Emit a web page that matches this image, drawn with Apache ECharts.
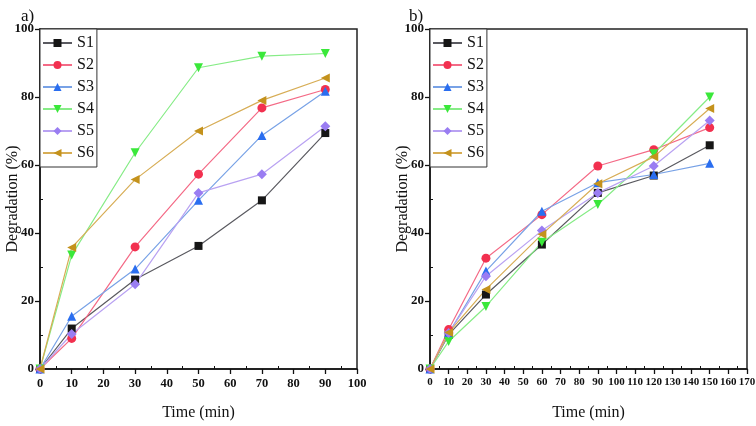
<!DOCTYPE html>
<html><head><meta charset="utf-8">
<script src="https://cdn.jsdelivr.net/npm/echarts@6/dist/echarts.min.js"></script>
<style>html,body{margin:0;padding:0;background:#fff}#c{width:756px;height:426px}</style>
</head><body><div id="c"></div>
<script>
// ---- data ----
const seriesNames = ['S1','S2','S3','S4','S5','S6'];
const timeA = [0,10,30,50,70,90];
const S1a = [0, 11.9, 26.3, 36.2, 49.6, 69.4];
const S2a = [0, 9.0, 35.9, 57.3, 76.8, 82.2];
const S3a = [0, 15.5, 29.4, 49.6, 68.7, 81.7];
const S4a = [0, 33.5, 63.6, 88.6, 92.0, 92.8];
const S5a = [0, 10.3, 24.9, 51.8, 57.3, 71.4];
const S6a = [0, 35.7, 55.7, 70.0, 79.0, 85.6];
const timeB = [0,10,30,60,90,120,150];
const S1b = [0, 10.1, 21.9, 36.6, 51.8, 56.9, 65.8];
const S2b = [0, 11.6, 32.6, 45.4, 59.7, 64.5, 71.0];
const S3b = [0, 10.5, 28.8, 46.4, 54.8, 57.2, 60.5];
const S4b = [0, 8.1, 18.4, 37.3, 48.4, 63.3, 80.0];
const S5b = [0, 10.6, 27.3, 40.7, 51.8, 59.7, 73.1];
const S6b = [0, 10.7, 23.4, 39.6, 54.5, 62.4, 76.6];
const panelTitles = ['a)','b)'];
const xNameText = 'Time (min)';
const yNameText = 'Degradation (%)';

// ---- styles ----
const serif = '"Liberation Serif","DejaVu Serif",serif';
const markerColors = ['#161616','#f2304f','#2a6ef0','#3ae83a','#9a7df2','#c4921c'];
const lineColors = ['#5a5a60','#f46a86','#78a2e6','#86ec86','#b9a2f2','#d7ad55'];
const symbols = ['rect','circle','triangle','triangle','diamond','triangle'];
const rotates = [0,0,0,180,0,90];
const sizes = [8,9,9,9,10,9];

const setsA = [S1a,S2a,S3a,S4a,S5a,S6a];
const setsB = [S1b,S2b,S3b,S4b,S5b,S6b];

function mkSeries(sets, times, idx){
  return sets.map((vals,i)=>({
    name: seriesNames[i], type:'line', xAxisIndex: idx, yAxisIndex: idx,
    data: times.map((t,j)=>[t, vals[j]]),
    symbol: symbols[i], symbolRotate: rotates[i], symbolSize: sizes[i],
    itemStyle:{color: markerColors[i]},
    lineStyle:{color: lineColors[i], width: 1.2},
    animation:false, z: 3
  }));
}

function xAx(idx, max, fs){
  return {type:'value', gridIndex: idx, min:0, max:max, interval:10,
    name: xNameText, nameLocation:'middle', nameGap: 36, nameMoveOverlap:false,
    nameTextStyle:{fontFamily: serif, fontSize: 16, color:'#111'},
    axisLine:{show:true, onZero:false, lineStyle:{color:'#111', width:1.5}},
    axisTick:{show:true, length:5, lineStyle:{color:'#111', width:1.3}},
    minorTick:{show:true, splitNumber:2, length:-3, lineStyle:{color:'#111', width:1}},
    axisLabel:{fontFamily: serif, fontWeight:'bold', fontSize: fs, color:'#111', margin: 8},
    splitLine:{show:false}};
}
function yAx(idx){
  return {type:'value', gridIndex: idx, min:0, max:100, interval:20,
    name: yNameText, nameLocation:'middle', nameGap: 19, nameMoveOverlap:false,
    nameTextStyle:{fontFamily: serif, fontSize: 16, color:'#111'},
    axisLine:{show:true, onZero:false, lineStyle:{color:'#111', width:1.5}},
    axisTick:{show:true, length:5, lineStyle:{color:'#111', width:1.3}},
    minorTick:{show:true, splitNumber:2, length:-3, lineStyle:{color:'#111', width:1}},
    axisLabel:{fontFamily: serif, fontWeight:'bold', fontSize: 13, color:'#111', margin: 6},
    splitLine:{show:false}};
}
function legend(left){
  return {orient:'vertical', left:left, top:29, data: seriesNames,
    itemWidth:29, itemHeight:10, itemGap:6, padding:[6,3,6,2],
    borderColor:'#333', borderWidth:1, backgroundColor:'#fff',
    textStyle:{fontFamily: serif, fontSize:16, color:'#111', lineHeight:16},
    selectedMode:false};
}

const chart = echarts.init(document.getElementById('c'), null, {renderer:'canvas'});
chart.setOption({
  backgroundColor:'#fff',
  animation:false,
  title:[
    {text: panelTitles[0], left: 16, top: 3, textStyle:{fontFamily: serif, fontSize:17, fontWeight:'normal', color:'#111'}},
    {text: panelTitles[1], left: 404, top: 3, textStyle:{fontFamily: serif, fontSize:17, fontWeight:'normal', color:'#111'}}
  ],
  grid:[
    {left:40, top:29, width:317, height:340, show:true, borderColor:'#222', borderWidth:1.5, backgroundColor:'transparent', containLabel:false, outerBoundsMode:'none'},
    {left:430, top:29, width:317, height:340, show:true, borderColor:'#222', borderWidth:1.5, backgroundColor:'transparent', containLabel:false, outerBoundsMode:'none'}
  ],
  legend:[legend(40), legend(430)],
  xAxis:[xAx(0,100,12.5), xAx(1,170,11)],
  yAxis:[yAx(0), yAx(1)],
  series: mkSeries(setsA, timeA, 0).concat(mkSeries(setsB, timeB, 1))
});
</script></body></html>
